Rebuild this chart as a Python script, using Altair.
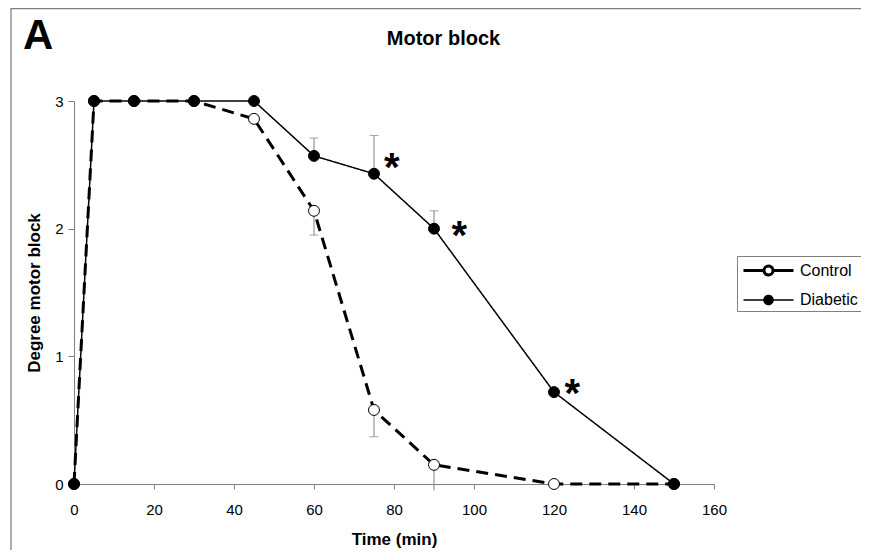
import altair as alt
import pandas as pd

# ---- data ----
times = [0, 5, 15, 30, 45, 60, 75, 90, 120, 150]
control = [0, 3, 3, 3, 2.86, 2.14, 0.58, 0.15, 0, 0]
diabetic = [0, 3, 3, 3, 3, 2.57, 2.43, 2.0, 0.72, 0]
series_names = ["Control", "Diabetic"]

err_series = ["Control", "Control", "Control", "Diabetic", "Diabetic", "Diabetic"]
err_time = [60, 75, 90, 60, 75, 90]
err_mean = [2.14, 0.58, 0.15, 2.57, 2.43, 2.0]
err_end = [1.95, 0.37, -0.05, 2.71, 2.73, 2.14]
err_cap = [True, True, False, True, True, True]

star_time = [79.2, 96.1, 124.3]
star_level = [2.53, 2.0, 0.76]

x_ticks = [0, 20, 40, 60, 80, 100, 120, 140, 160]
y_ticks = [0, 1, 2, 3]

FONT = "Liberation Sans"
GRAY = "#808080"

rows = []
for s, vals in (("Control", control), ("Diabetic", diabetic)):
    for t, v in zip(times, vals):
        rows.append({"series": s, "time": t, "level": v})
df = pd.DataFrame(rows)

err_df = pd.DataFrame({"series": err_series, "time": err_time,
                       "mean": err_mean, "end": err_end, "cap": err_cap})
star_df = pd.DataFrame({"time": star_time, "level": star_level, "label": ["*"] * 3})

xscale = alt.Scale(domain=[0, 160], nice=False, zero=False)
yscale = alt.Scale(domain=[0, 3], nice=False)
X = alt.X("time:Q", scale=xscale,
          axis=alt.Axis(values=x_ticks, title="Time (min)", format="d", labelFlush=False))
Y = alt.Y("level:Q", scale=yscale,
          axis=alt.Axis(values=y_ticks, title="Degree motor block", format="d", labelFlush=False))

# legend symbol: line - circle - line (short overlapping sub-paths keep dashes solid)
legend_path = (
    "M-2.5,0L-1.4,0M-1.5,0L-0.45,0M0.45,0L1.5,0M1.4,0L2.5,0"
    "M-0.45,0A0.45,0.45,0,1,1,0.45,0A0.45,0.45,0,1,1,-0.45,0Z"
    "M0.45,0A0.45,0.45,0,1,1,-0.45,0A0.45,0.45,0,1,1,0.45,0Z"
)

frame = alt.Chart(pd.DataFrame({"k": [0]})).mark_rect(
    fillOpacity=0, stroke=GRAY, strokeWidth=1.3
).encode(x=alt.value(-63), x2=alt.value(900), y=alt.value(-92.5), y2=alt.value(700))

err_rules = alt.Chart(err_df).mark_rule(color=GRAY, strokeWidth=1).encode(
    x=alt.X("time:Q", scale=xscale), y=alt.Y("mean:Q", scale=yscale), y2="end:Q")
err_caps = alt.Chart(err_df).transform_filter("datum.cap").mark_tick(
    orient="horizontal", size=9, thickness=1, color=GRAY).encode(
    x=alt.X("time:Q", scale=xscale), y=alt.Y("end:Q", scale=yscale))

lines = alt.Chart(df).mark_line(color="black").encode(
    x=X, y=Y,
    strokeDash=alt.StrokeDash("series:N",
                              scale=alt.Scale(domain=series_names, range=[[12, 7], [1, 0]]),
                              legend=alt.Legend(title=None)),
    strokeWidth=alt.StrokeWidth("series:N",
                                scale=alt.Scale(domain=series_names, range=[3, 1.5]),
                                legend=alt.Legend(title=None)),
    order="time:Q",
)

points = alt.Chart(df).mark_point(
    shape="circle", filled=True, size=120, stroke="black", strokeWidth=1, opacity=1
).encode(
    x=X, y=Y,
    fill=alt.Fill("series:N", scale=alt.Scale(domain=series_names, range=["white", "black"]),
                  legend=alt.Legend(title=None)),
)

stars = alt.Chart(star_df).mark_text(
    font=FONT, fontSize=40, fontWeight="bold", color="black", baseline="middle", dy=8, dx=1
).encode(x=alt.X("time:Q", scale=xscale), y=alt.Y("level:Q", scale=yscale), text="label:N")

panel_letter = alt.Chart(pd.DataFrame({"t": ["A"]})).mark_text(
    font=FONT, fontSize=42, fontWeight="bold", color="black", align="left", baseline="alphabetic"
).encode(x=alt.value(-51), y=alt.value(-52), text="t:N")

chart_title = alt.Chart(pd.DataFrame({"t": ["Motor block"]})).mark_text(
    font=FONT, fontSize=20, fontWeight="bold", color="black", align="center", baseline="alphabetic"
).encode(x=alt.value(369.5), y=alt.value(-56), text="t:N")

chart = alt.layer(frame, err_rules, err_caps, lines, points, stars, panel_letter, chart_title).properties(
    width=640, height=383,
    autosize=alt.AutoSizeParams(type="none"),
    padding={"left": 66, "top": 93, "right": 147, "bottom": 66},
).configure_view(stroke=None).configure_axis(
    grid=False, domainColor=GRAY, tickColor=GRAY, domainWidth=1, tickWidth=1,
    labelFont=FONT, labelFontSize=15, labelColor="black",
    titleFont=FONT, titleFontSize=17, titleFontWeight="bold", titleColor="black",
).configure_axisX(
    tickSize=5, labelPadding=13, titlePadding=14,
).configure_axisY(
    tickSize=6, labelPadding=5, titlePadding=11,
).configure_legend(
    orient="none", legendX=663, legendY=155,
    strokeColor=GRAY, padding=3, symbolType=legend_path, symbolSize=400,
    symbolStrokeColor="black", symbolOffset=17, labelOffset=20,
    labelFont=FONT, labelFontSize=16, labelColor="black", rowPadding=8,
)

chart.save("out.html", embed_options={"renderer": "svg", "actions": False})
